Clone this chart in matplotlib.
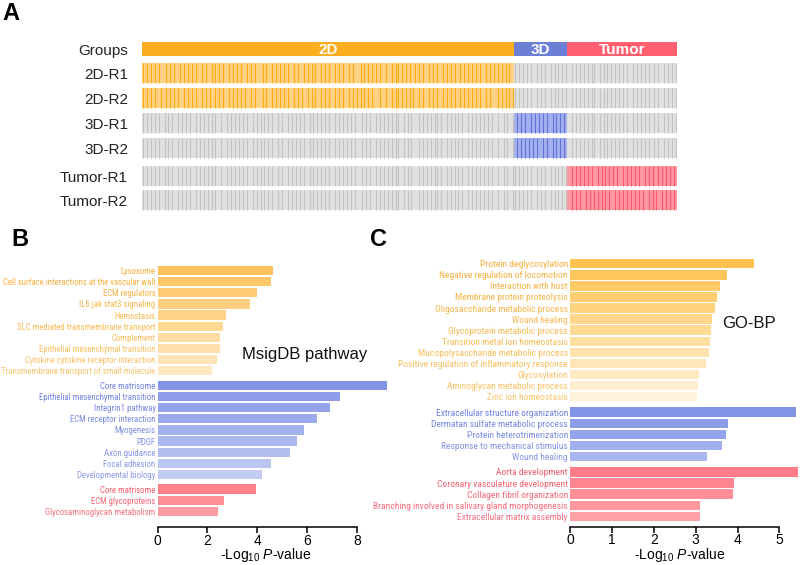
import numpy as np
import matplotlib.pyplot as plt
from matplotlib import font_manager
from matplotlib.colors import to_rgb

plt.rcParams['font.family'] = ['Liberation Sans', 'DejaVu Sans']
plt.rcParams['mathtext.fontset'] = 'custom'
plt.rcParams['mathtext.rm'] = 'Liberation Sans'
plt.rcParams['mathtext.it'] = 'Liberation Sans:italic'

# the pathway labels are set in a narrow face in the original; use one if present
available = {f.name for f in font_manager.fontManager.ttflist}
narrow = [n for n in ['Liberation Sans Narrow', 'Roboto Condensed', 'Open Sans Condensed',
                      'Arial Narrow'] if n in available]
if narrow:
    LABEL_FONT, B_SIZE, C_SIZE = [narrow[0], 'Liberation Sans'], 6.3, 6.8
else:
    LABEL_FONT, B_SIZE, C_SIZE = ['Liberation Sans', 'DejaVu Sans'], 5.3, 5.8

# ---------------- panel A data ----------------
groups = ['2D', '3D', 'Tumor']
row_names = ['2D-R1', '2D-R2', '3D-R1', '3D-R2', 'Tumor-R1', 'Tumor-R2']
row_group = ['2D', '2D', '3D', '3D', 'Tumor', 'Tumor']

# expression level per gene inside its own group (2 = high, 1 = mid)
in_group = {
    '2D-R1': ('2121212121' '1121212112' '1212121211' '2121121212' '1211212121'
              '2112121211' '1212112121' '2121211212' '1121212121' '1212121121'
              '2121121211' '1212121212' '1211211212' '2121212112' '1212112121'
              '2112121212' '1121212121' '2121121212' '1212121211'),
    '2D-R2': ('2121212112' '1121212121' '1212121211' '2121211212' '1211212121'
              '2121121211' '1212112121' '2121211212' '1211212121' '1212121121'
              '2121121212' '1212121211' '1211211212' '2121212121' '1212112121'
              '2112121212' '1121212121' '2121121211' '1212121212'),
    '3D-R1': '1212121121' '2121212112' '1212121',
    '3D-R2': '1212121212' '1211212112' '1212121',
    'Tumor-R1': '1121212121' '2121121212' '1212121121' '2121212112' '1212112121' '212121',
    'Tumor-R2': '1121212112' '1212121212' '1211212121' '2121212121' '1212121121' '212121',
}
# background (low) level for every gene column
background = ('2121212121' '1212121121' '2121211212' '1212121211' '2112121212'
              '1212112121' '2121212112' '1211212121' '2121121212' '1212121121'
              '2121212121' '1121212112' '1212121212' '2112121211' '1212121212'
              '2121121212' '1212112121' '2121212121' '1211212112' '2121212121'
              '1212121121' '2121212112' '1212121212' '2112121212' '1212121211'
              '2121212121' '1212112121' '212')

# ---------------- panel B data ----------------
msig_orange = ['Lysosome', 'Cell surface interactions at the vascular wall', 'ECM regulators',
               'IL6 jak stat3 signaling', 'Hemostasis', 'SLC mediated transmembrane transport',
               'Complement', 'Epithelial mesenchymal transition',
               'Cytokine cytokine receptor interaction', 'Transmembrane transport of small molecule']
msig_orange_val = [4.65, 4.55, 3.98, 3.71, 2.75, 2.62, 2.50, 2.50, 2.38, 2.19]
msig_blue = ['Core matrisome', 'Epithelial mesenchymal transition', 'Integrin1 pathway',
             'ECM receptor interaction', 'Myogenesis', 'PDGF', 'Axon guidance',
             'Focal adhesion', 'Developmental biology']
msig_blue_val = [9.23, 7.33, 6.93, 6.42, 5.88, 5.61, 5.32, 4.55, 4.21]
msig_red = ['Core matrisome', 'ECM glycoproteins', 'Glycosaminoglycan metabolism']
msig_red_val = [3.96, 2.66, 2.43]

# ---------------- panel C data ----------------
gobp_orange = ['Protein deglycosylation', 'Negative regulation of locomotion', 'Interaction with host',
               'Membrane protein proteolysis', 'Oligosaccharide metabolic process', 'Wound healing',
               'Glycoprotein metabolic process', 'Transition metal ion homeostasis',
               'Mucopolysaccharide metabolic process', 'Positive regulation of inflammatory response',
               'Glycosylation', 'Aminoglycan metabolic process', 'Zinc ion homeostasis']
gobp_orange_val = [4.39, 3.76, 3.58, 3.51, 3.46, 3.39, 3.37, 3.35, 3.32, 3.25, 3.08, 3.06, 3.03]
gobp_blue = ['Extracellular structure organization', 'Dermatan sulfate metabolic process',
             'Protein heterotrimerization', 'Response to mechanical stimulus', 'Wound healing']
gobp_blue_val = [5.39, 3.78, 3.72, 3.62, 3.26]
gobp_red = ['Aorta development', 'Coronary vasculature development', 'Collagen fibril organization',
            'Branching involved in salivary gland morphogenesis', 'Extracellular matrix assembly']
gobp_red_val = [5.44, 3.92, 3.89, 3.11, 3.11]

group_color = {'2D': '#FDAE1E', '3D': '#6B7FD7', 'Tumor': '#FF6070'}
high_color = {'2D': '#FFAC10', '3D': '#5E72DA', 'Tumor': '#FF5A6B'}
mid_color = {'2D': '#FFD283', '3D': '#A4B0EE', 'Tumor': '#FF98A3'}
grey_hi, grey_lo = '#C2C2C2', '#E0E0E0'


def shades(c0, c1, n):
    a, b = np.array(to_rgb(c0)), np.array(to_rgb(c1))
    return [tuple(a + (b - a) * t) for t in np.linspace(0, 1, n)]


def stacked_positions(sizes, gap):
    pos, y = [], 0.0
    for n in sizes:
        for _ in range(n):
            pos.append(y)
            y += 1
        y += gap
    return pos


fig = plt.figure(figsize=(8, 5.65), dpi=100)

# ---------------- panel A ----------------
counts = [len(in_group['2D-R1']), len(in_group['3D-R1']), len(in_group['Tumor-R1'])]
gene_group = sum([[g] * n for g, n in zip(groups, counts)], [])
ncol = len(gene_group)
starts = np.cumsum([0] + counts[:-1])

axA = fig.add_axes([0.1775, 0.6265, 0.66875, 0.2991])
row_tops = [63, 88, 113, 138, 166, 190]
row_h = 20
for r, name in enumerate(row_names):
    g = row_group[r]
    top, bot = row_tops[r], row_tops[r] + row_h
    # base (mid / low) colour of every segment
    seg_cols = [mid_color[g] if gg == g else grey_lo for gg in groups]
    axA.barh(top + row_h / 2, counts, left=starts, height=row_h, color=seg_cols, linewidth=0)
    # thin darker lines for the high-level genes
    own = iter(in_group[name])
    xs, cs = [], []
    for j in range(ncol):
        if gene_group[j] == g:
            if next(own) == '2':
                xs.append(j + 0.5)
                cs.append(high_color[g])
        elif background[j] == '2':
            xs.append(j + 0.5)
            cs.append(grey_hi)
    axA.vlines(xs, top, bot, colors=cs, linewidth=0.8)

axA.barh(49, counts, left=starts, height=14, color=[group_color[g] for g in groups], linewidth=0)
for g, s, n in zip(groups, starts, counts):
    axA.text(s + n / 2, 49.5, g, color='white', fontsize=11, fontweight='bold',
             ha='center', va='center')
axA.set_xlim(0, ncol)
axA.set_ylim(211, 42)
axA.set_xticks([])
axA.set_yticks([49] + [t + row_h / 2 for t in row_tops])
axA.set_yticklabels(['Groups'] + row_names, fontsize=11, color='#222222')
axA.tick_params(axis='y', length=0, pad=10)
for s in axA.spines.values():
    s.set_visible(False)


# ---------------- panels B and C ----------------
def enrich_panel(rect, names, vals, sizes, gap, bar_cols, txt_cols, lab_size, xmax, xbound,
                 ticks, ylim, title, title_xy, lab_xy):
    ax = fig.add_axes(rect)
    pos = stacked_positions(sizes, gap)
    ax.barh(pos, vals, height=0.84, color=bar_cols)
    ax.set_yticks(pos)
    ax.set_yticklabels(names, family=LABEL_FONT, fontsize=lab_size)
    for lab, c in zip(ax.get_yticklabels(), txt_cols):
        lab.set_color(c)
    ax.tick_params(axis='y', length=0, pad=1.5)
    ax.set_ylim(*ylim)
    ax.set_xlim(0, xmax)
    ax.set_xticks(ticks)
    ax.tick_params(axis='x', labelsize=10, length=4, width=1.1, pad=0.8)
    for s in ['top', 'right', 'left']:
        ax.spines[s].set_visible(False)
    ax.spines['bottom'].set_bounds(0, xbound)
    ax.spines['bottom'].set_linewidth(1.1)
    ax.set_xlabel('-Log$_{10}$ $P$-value', fontsize=10)
    ax.xaxis.set_label_coords(*lab_xy)
    ax.text(title_xy[0], title_xy[1], title, fontsize=12, va='center', color='#111111')
    return ax


b_bar = (shades('#FFC35E', '#FFE8C0', 10) + shades('#8495E6', '#C3CCF4', 9)
         + shades('#FF8089', '#FF9BA2', 3))
b_txt = (shades('#F9AE3A', '#FAC46A', 10) + shades('#6F80E0', '#8E9CE8', 9)
         + shades('#F45C6B', '#F67080', 3))
enrich_panel([0.197, 0.0675, 0.2926, 0.4655],
             msig_orange + msig_blue + msig_red,
             msig_orange_val + msig_blue_val + msig_red_val,
             [10, 9, 3], 0.32, b_bar, b_txt, B_SIZE, 9.4, 8, [0, 2, 4, 6, 8],
             (23.03, -0.6), 'MsigDB pathway', (3.38, 7.54), (0.46, -0.074))

c_bar = (shades('#FFC250', '#FFF2DA', 13) + shades('#8294E6', '#A9B6EF', 5)
         + shades('#FF7B87', '#FFA0A7', 5))
c_txt = (shades('#F9AE3A', '#FAC46A', 13) + shades('#6F80E0', '#8595E6', 5)
         + shades('#F45C6B', '#F67080', 5))
enrich_panel([0.7125, 0.0678, 0.2853, 0.477],
             gobp_orange + gobp_blue + gobp_red,
             gobp_orange_val + gobp_blue_val + gobp_red_val,
             [13, 5, 5], 0.42, c_bar, c_txt, C_SIZE, 5.45, 5, [0, 1, 2, 3, 4, 5],
             (23.79, -0.6), 'GO-BP', (3.63, 5.4), (0.48, -0.072))

fig.text(2 / 800, 1 - 2 / 565, 'A', fontsize=17, fontweight='bold', va='top')
fig.text(11 / 800, 1 - 228 / 565, 'B', fontsize=17, fontweight='bold', va='top')
fig.text(370 / 800, 1 - 228 / 565, 'C', fontsize=17, fontweight='bold', va='top')

fig.savefig('out.png', dpi=100)
